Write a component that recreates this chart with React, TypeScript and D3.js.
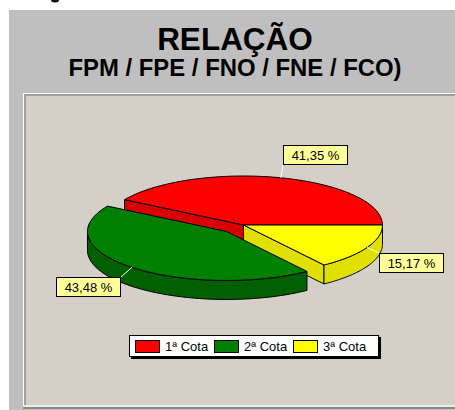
import React from 'react';
import * as d3 from 'd3';

const titleTop = 'RELAÇÃO';
const titleSub = 'FPM / FPE / FNO / FNE / FCO)';
const cotas = ['1ª Cota', '2ª Cota', '3ª Cota'];
const percentuais = [41.35, 43.48, 15.17];
const rotulos = ['41,35 %', '43,48 %', '15,17 %'];
const cores = ['#ff0000', '#008000', '#ffff00'];
const coresLado = ['#d80000', '#006000', '#e0e000'];

const width = 455;
const height = 410;

// elipse do topo da pizza
const cx = 243.5;
const cy = 225;
const rx = 139;
const ry = 49;
const depth = 19;
const explode = 0.18; // so a 2a cota sai da pizza

// caixas dos rotulos: [x, y] do canto superior esquerdo
const boxes = [
  [283, 145],
  [56, 277],
  [379, 253],
];
const boxW = 65;
const boxH = 20;

// d3.pie: 0 = topo. Comeca a leste e roda no sentido anti-horario
const pie = d3.pie<number>().sort(null).startAngle(Math.PI / 2).endAngle(Math.PI / 2 - 2 * Math.PI);
const fatias = pie(percentuais).map((f) => {
  // normaliza para lo < hi, com lo >= pi/2
  let lo = Math.min(f.startAngle, f.endAngle);
  let hi = Math.max(f.startAngle, f.endAngle);
  if (lo < Math.PI / 2) {
    lo += 2 * Math.PI;
    hi += 2 * Math.PI;
  }
  return { lo, hi };
});
const ordem = [0, 2, 1];

const ponto = (a: number, ox = 0, oy = 0, dz = 0): [number, number] => [
  cx + ox + rx * Math.sin(a),
  cy + oy - ry * Math.cos(a) + dz,
];

const line = d3.line();

const arco = (a0: number, a1: number, ox = 0, oy = 0, dz = 0) =>
  d3.range(0, 61).map((i) => ponto(a0 + ((a1 - a0) * i) / 60, ox, oy, dz));

const App = () => {
  const offsets = fatias.map((f, i) => {
    if (i !== 1) return [0, 0];
    const mid = (f.lo + f.hi) / 2;
    return [rx * explode * Math.sin(mid), -ry * explode * Math.cos(mid)];
  });

  const legendX = d3.scalePoint<string>().domain(cotas).range([135, 293]);

  return (
    <svg
      width={width}
      height={height}
      style={{ position: 'absolute', left: 0, top: 0, display: 'block' }}
      fontFamily="'Liberation Sans', Arial, sans-serif"
    >
      <rect x={0} y={0} width={width} height={height} fill="#ffffff" />
      <ellipse cx={55} cy={0} rx={4} ry={2.5} fill="#111111" />
      <rect x={9} y={10} width={446} height={400} fill="#bfbfbf" />
      <text x={235} y={50} textAnchor="middle" fontSize={31.5} fontWeight="bold" fill="#000">
        {titleTop}
      </text>
      <text x={235} y={76} textAnchor="middle" fontSize={23.9} fontWeight="bold" fill="#000">
        {titleSub}
      </text>

      <rect x={23} y={93} width={432} height={316} fill="#ffffff" />
      <rect x={24} y={94} width={431} height={313} fill="#a0a0a0" />
      <rect x={26} y={96} width={429} height={309} fill="#d4d0c8" />
      <rect x={23} y={405} width={432} height={2} fill="#ececec" />
      <rect x={23} y={407} width={432} height={2} fill="#8a8a8a" />

      {ordem.map((i) => {
        const f = fatias[i];
        const [ox, oy] = offsets[i];
        const c: [number, number] = [cx + ox, cy + oy];
        const c2: [number, number] = [c[0], c[1] + depth];
        const corte = i === 0 ? ponto(f.lo, ox, oy) : ponto(f.hi, ox, oy);
        const corte2: [number, number] = [corte[0], corte[1] + depth];
        // lado externo visivel: so a parte de baixo da elipse
        const ini = Math.max(f.lo, Math.PI / 2);
        const fim = Math.min(f.hi, (3 * Math.PI) / 2);
        const rim = fim > ini ? [...arco(ini, fim, ox, oy), ...arco(fim, ini, ox, oy, depth)] : null;
        const topo = [c, ...arco(f.lo, f.hi, ox, oy)];
        return (
          <g key={cotas[i]} stroke="#000" strokeWidth={1} strokeLinejoin="round">
            {i !== 1 && <path d={line([c, corte, corte2, c2])! + 'Z'} fill={coresLado[i]} />}
            {rim && <path d={line(rim)! + 'Z'} fill={coresLado[i]} />}
            <path d={line(topo)! + 'Z'} fill={cores[i]} />
          </g>
        );
      })}

      {fatias.map((f, i) => {
        const mid = (f.lo + f.hi) / 2;
        const [ox, oy] = offsets[i];
        const p = ponto(mid, ox, oy);
        const [bx, by] = boxes[i];
        const alvoX = Math.max(bx, Math.min(bx + boxW, p[0]));
        const alvoY = p[1] < by ? by : p[1] > by + boxH ? by + boxH : by;
        return (
          <g key={rotulos[i]}>
            <line x1={p[0]} y1={p[1]} x2={alvoX} y2={alvoY} stroke="#ffffff" strokeWidth={1} />
            <rect x={bx + 0.5} y={by + 0.5} width={boxW - 1} height={boxH - 1} fill="#ffff99" stroke="#000" />
            <text x={bx + boxW / 2} y={by + 14.5} textAnchor="middle" fontSize={13} fill="#000">
              {rotulos[i]}
            </text>
          </g>
        );
      })}

      <rect x={131} y={337} width={250} height={22} fill="#000" />
      <rect x={129.5} y={335.5} width={249} height={21} fill="#fff" stroke="#000" />
      {cotas.map((c, i) => (
        <g key={c}>
          <rect x={legendX(c)! + 0.5} y={340.5} width={24} height={12} fill={cores[i]} stroke="#000" />
          <text x={legendX(c)! + 30} y={351} fontSize={13} fill="#000">
            {c}
          </text>
        </g>
      ))}
    </svg>
  );
};

export default App;
